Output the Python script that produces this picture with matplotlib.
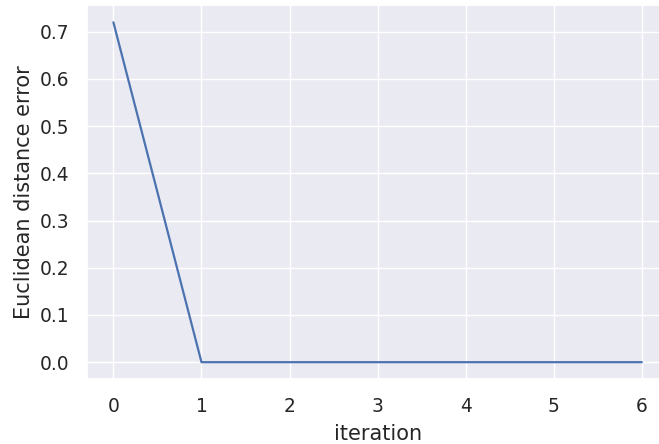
import matplotlib
matplotlib.use("Agg")
import matplotlib.pyplot as plt
import seaborn as sns

iterations = [0, 1, 2, 3, 4, 5, 6]
errors = [0.72, 0.0, 0.0, 0.0, 0.0, 0.0, 0.0]

sns.set_theme(style="darkgrid", font_scale=1.2)
fig = plt.figure(figsize=(6.59, 4.44), dpi=100)
ax = fig.add_axes([0.132, 0.146, 0.882, 0.842])
ax.plot(iterations, errors, color="#4c72b0", linewidth=1.6)
ax.tick_params(axis="both", pad=6.5, labelsize=13.4)
ax.set_xlabel("iteration", fontsize=15, labelpad=6)
ax.set_ylabel("Euclidean distance error", fontsize=15, labelpad=4)
fig.savefig("out.png", dpi=100)
